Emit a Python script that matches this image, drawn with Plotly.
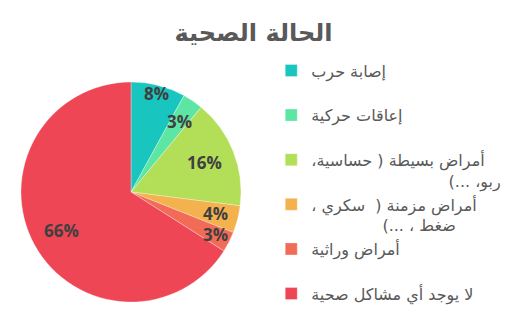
import math
import plotly.graph_objects as go

RLE, PDF, NB = "\u202b", "\u202c", "\u00a0"

def rtl(s):
    return RLE + s + PDF

labels = [
    rtl("إصابة حرب") + "<br> ",
    rtl("إعاقات حركية") + "<br> ",
    rtl("أمراض بسيطة ( حساسية،") + "<br>" + NB * 27 + rtl("ربو، ...)"),
    rtl("أمراض مزمنة (  سكري ،") + "<br>" + NB * 14 + rtl("ضغط ، ...)"),
    rtl("أمراض وراثية") + "<br> ",
    rtl("لا يوجد أي مشاكل صحية"),
]
values = [8, 3, 16, 4, 3, 66]
colors = ["#19c6bf", "#5de6a3", "#b3df58", "#f4b24e", "#f26b57", "#ef4656"]
label_radius = [0.92, 0.78, 0.72, 0.79, 0.86, 0.72]

W, H = 507, 335
cx, cy, R = 131, 192, 110

fig = go.Figure(go.Pie(
    labels=labels, values=values, sort=False, direction="clockwise", rotation=0,
    marker=dict(colors=colors, line=dict(color="rgba(255,255,255,0.6)", width=0.5)),
    textinfo="none", hoverinfo="percent",
    domain=dict(x=[(cx - R) / W, (cx + R) / W], y=[(H - cy - R) / H, (H - cy + R) / H]),
))

total = sum(values)
cum = 0
for v, f in zip(values, label_radius):
    mid = (cum + v / 2) / total * 2 * math.pi
    cum += v
    px = cx + f * R * math.sin(mid)
    py = cy - f * R * math.cos(mid)
    fig.add_annotation(x=px / W, y=1 - py / H, xref="paper", yref="paper",
                       xanchor="center", yanchor="middle",
                       text=f"{round(v / total * 100)}%", showarrow=False, borderpad=0,
                       font=dict(family="Open Sans", size=17, color="#404040", weight="bold"))

fig.update_layout(
    width=W, height=H, margin=dict(l=0, r=0, t=0, b=0),
    paper_bgcolor="white", plot_bgcolor="white",
    title=dict(text="<b>الحالة الصحية</b>", x=0.5, xanchor="center", y=1 - 33 / H, yanchor="middle",
               font=dict(family="DejaVu Sans", size=24, color="#595959")),
    legend=dict(x=0.535, y=0.84, xanchor="left", yanchor="top", valign="top",
                font=dict(family="DejaVu Sans", size=16, color="#595959"),
                itemwidth=30, bgcolor="rgba(0,0,0,0)"),
)
fig.write_html("out.html")
